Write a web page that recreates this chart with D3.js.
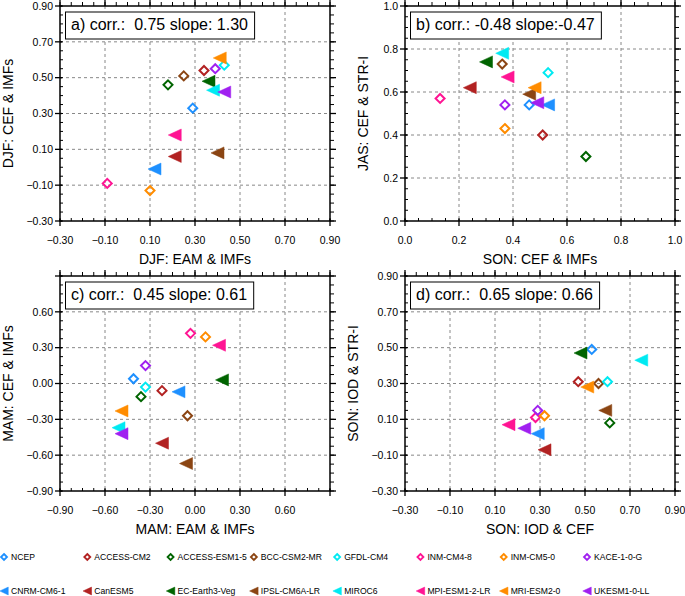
<!DOCTYPE html>
<html><head><meta charset="utf-8">
<script src="https://cdn.jsdelivr.net/npm/d3@7"></script>
<style>
html,body{margin:0;padding:0;background:#fff;}
svg{display:block;font-family:"Liberation Sans",Arial,Helvetica,sans-serif;}
</style></head>
<body>
<svg id="chart" width="685" height="596"></svg>
<script>
// ---------- data ----------
const models = ["NCEP","ACCESS-CM2","ACCESS-ESM1-5","BCC-CSM2-MR","GFDL-CM4","INM-CM4-8","INM-CM5-0","KACE-1-0-G",
  "CNRM-CM6-1","CanESM5","EC-Earth3-Veg","IPSL-CM6A-LR","MIROC6","MPI-ESM1-2-LR","MRI-ESM2-0","UKESM1-0-LL"];
const shapes = ["diamond","diamond","diamond","diamond","diamond","diamond","diamond","diamond",
  "triangle","triangle","triangle","triangle","triangle","triangle","triangle","triangle"];
const colors = ["#1e90ff","#b22222","#006400","#8b4513","#00eaf2","#ff1493","#ff8c00","#a020f0",
  "#1e90ff","#b22222","#006400","#8b4513","#00eaf2","#ff1493","#ff8c00","#a020f0"];

const aX = [0.29,0.34,0.18,0.25,0.43,-0.09,0.10,0.39, 0.12,0.21,0.36,0.40,0.38,0.21,0.41,0.43];
const aY = [0.33,0.54,0.46,0.51,0.57,-0.09,-0.13,0.55, -0.01,0.06,0.48,0.08,0.43,0.18,0.61,0.42];
const bX = [0.46,0.51,0.67,0.36,0.53,0.13,0.37,0.37, 0.53,0.24,0.30,0.46,0.36,0.38,0.48,0.49];
const bY = [0.54,0.40,0.30,0.73,0.69,0.57,0.43,0.54, 0.54,0.62,0.74,0.59,0.78,0.67,0.62,0.55];
const cX = [-0.41,-0.22,-0.36,-0.05,-0.33,-0.03,0.07,-0.33, -0.11,-0.22,0.18,-0.06,-0.51,0.16,-0.49,-0.49];
const cY = [0.04,-0.06,-0.11,-0.27,-0.03,0.42,0.39,0.15, -0.07,-0.50,0.03,-0.67,-0.37,0.32,-0.23,-0.42];
const dX = [0.53,0.47,0.61,0.56,0.60,0.28,0.32,0.29, 0.29,0.32,0.48,0.59,0.75,0.16,0.51,0.23];
const dY = [0.49,0.31,0.08,0.30,0.31,0.11,0.12,0.15, 0.02,-0.07,0.47,0.15,0.43,0.07,0.28,0.05];

const ticksA = [-0.3,-0.1,0.1,0.3,0.5,0.7,0.9];
const ticksB = [0.0,0.2,0.4,0.6,0.8,1.0];
const ticksC = [-0.9,-0.6,-0.3,0.0,0.3,0.6];

const titles = ["a) corr.:  0.75 slope: 1.30","b) corr.: -0.48 slope:-0.47","c) corr.:  0.45 slope: 0.61","d) corr.:  0.65 slope: 0.66"];
const xTitles = ["DJF: EAM & IMFs","SON: CEF & IMFs","MAM: EAM & IMFs","SON: IOD & CEF"];
const yTitles = ["DJF: CEF & IMFs","JAS: CEF & STR-I","MAM: CEF & IMFs","SON: IOD & STR-I"];

// ---------- drawing ----------
const svg = d3.select("#chart");

function markerPath(shape, s){
  if(shape==="diamond"){
    const h = s/2;
    return `M0,${-h}L${h},0L0,${h}L${-h},0Z`;
  } else {
    const w = s, hh = s*0.92;
    return `M${-w/2},0L${w/2},${-hh/2}L${w/2},${hh/2}Z`;
  }
}

function panel(cfg){
  const {x0,x1,y0,y1,xd,yd,xt,yt,step,minor,fmt,xs,ys,title,xTitle,yTitle,yTitleX} = cfg;
  const x = d3.scaleLinear().domain(xd).range([x0,x1]);
  const y = d3.scaleLinear().domain(yd).range([y1,y0]);
  const g = svg.append("g");
  const eps = 1e-9;
  // grid
  g.selectAll(".gx").data(xt.filter(v=>v>xd[0]+eps && v<xd[1]-eps)).join("line")
    .attr("x1",d=>x(d)).attr("x2",d=>x(d)).attr("y1",y0).attr("y2",y1)
    .attr("stroke","#888").attr("stroke-width",1).attr("stroke-dasharray","3,3");
  g.selectAll(".gy").data(yt.filter(v=>v>yd[0]+eps && v<yd[1]-eps)).join("line")
    .attr("y1",d=>y(d)).attr("y2",d=>y(d)).attr("x1",x0).attr("x2",x1)
    .attr("stroke","#888").attr("stroke-width",1).attr("stroke-dasharray","3,3");
  // minor ticks
  const minX = d3.range(Math.round((xd[1]-xd[0])/minor)+1).map(i=>xd[0]+i*minor);
  const minY = d3.range(Math.round((yd[1]-yd[0])/minor)+1).map(i=>yd[0]+i*minor);
  const majTest = v => xt.concat(yt).some(t=>Math.abs(t-v)<1e-6);
  minX.forEach(v=>{
    const px = x(v);
    // bottom minor inward
    g.append("line").attr("x1",px).attr("x2",px).attr("y1",y1).attr("y2",y1-3).attr("stroke","#000").attr("stroke-width",1);
    // top outward
    g.append("line").attr("x1",px).attr("x2",px).attr("y1",y0).attr("y2",y0-4).attr("stroke","#000").attr("stroke-width",1);
  });
  minY.forEach(v=>{
    const py = y(v);
    g.append("line").attr("x1",x0).attr("x2",x0+3).attr("y1",py).attr("y2",py).attr("stroke","#000").attr("stroke-width",1);
    g.append("line").attr("x1",x1).attr("x2",x1+4).attr("y1",py).attr("y2",py).attr("stroke","#000").attr("stroke-width",1);
  });
  // major ticks
  const majXAll = d3.range(Math.round((xd[1]-xd[0])/step)+1).map(i=>xd[0]+i*step);
  const majYAll = d3.range(Math.round((yd[1]-yd[0])/step)+1).map(i=>yd[0]+i*step);
  majXAll.forEach(v=>{
    const px = x(v);
    g.append("line").attr("x1",px).attr("x2",px).attr("y1",y1-2).attr("y2",y1+5).attr("stroke","#000").attr("stroke-width",1.3);
    g.append("line").attr("x1",px).attr("x2",px).attr("y1",y0).attr("y2",y0-6).attr("stroke","#000").attr("stroke-width",1.3);
  });
  majYAll.forEach(v=>{
    const py = y(v);
    g.append("line").attr("x1",x0-5).attr("x2",x0+2).attr("y1",py).attr("y2",py).attr("stroke","#000").attr("stroke-width",1.3);
    g.append("line").attr("x1",x1).attr("x2",x1+6).attr("y1",py).attr("y2",py).attr("stroke","#000").attr("stroke-width",1.3);
  });
  // frame
  g.append("rect").attr("x",x0).attr("y",y0).attr("width",x1-x0).attr("height",y1-y0)
    .attr("fill","none").attr("stroke","#000").attr("stroke-width",1.5);
  // tick labels
  g.selectAll(".lx").data(xt).join("text").attr("x",d=>x(d)).attr("y",y1+23)
    .attr("text-anchor","middle").attr("font-size",10.5).text(d=>d3.format(fmt)(d));
  g.selectAll(".ly").data(yt).join("text").attr("x",x0-7).attr("y",d=>y(d)).attr("dy","0.36em")
    .attr("text-anchor","end").attr("font-size",10.5).text(d=>d3.format(fmt)(d));
  // axis titles
  g.append("text").attr("x",(x0+x1)/2).attr("y",y1+43).attr("text-anchor","middle").attr("font-size",14).text(xTitle);
  g.append("text").attr("transform",`translate(${yTitleX},${(y0+y1)/2}) rotate(-90)`)
    .attr("text-anchor","middle").attr("font-size",14).text(yTitle);
  // title box
  const tb = g.append("g");
  const tt = tb.append("text").attr("x",x0+11).attr("y",y0+24).attr("font-size",16)
    .attr("xml:space","preserve").style("white-space","pre").text(title);
  const bb = tt.node().getBBox();
  tb.insert("rect","text").attr("x",x0+5.5).attr("y",y0+6).attr("width",bb.width+12).attr("height",27)
    .attr("fill","#fff").attr("stroke","#000").attr("stroke-width",1);
  // markers
  const pts = models.map((m,i)=>({x:xs[i],y:ys[i],shape:shapes[i],color:colors[i]}));
  g.selectAll(".pt").data(pts).join("path")
    .attr("transform",d=>`translate(${x(d.x)},${y(d.y)})`)
    .attr("d",d=>markerPath(d.shape, d.shape==="diamond"?9:13))
    .attr("fill",d=>d.shape==="diamond"?"none":d.color)
    .attr("stroke",d=>d.color)
    .attr("stroke-width",d=>d.shape==="diamond"?2:0.5)
    .attr("stroke-linejoin","miter");
}

panel({x0:60,x1:330,y0:6,y1:221,xd:[-0.3,0.9],yd:[-0.3,0.9],xt:ticksA,yt:ticksA,step:0.2,minor:0.05,fmt:".2f",
  xs:aX,ys:aY,title:titles[0],xTitle:xTitles[0],yTitle:yTitles[0],yTitleX:13});
panel({x0:405,x1:675,y0:6,y1:221,xd:[0,1],yd:[0,1],xt:ticksB,yt:ticksB,step:0.2,minor:0.05,fmt:".1f",
  xs:bX,ys:bY,title:titles[1],xTitle:xTitles[1],yTitle:yTitles[1],yTitleX:368});
panel({x0:60,x1:330,y0:276,y1:491,xd:[-0.9,0.9],yd:[-0.9,0.9],xt:ticksC,yt:ticksC,step:0.3,minor:0.075,fmt:".2f",
  xs:cX,ys:cY,title:titles[2],xTitle:xTitles[2],yTitle:yTitles[2],yTitleX:13});
panel({x0:405,x1:675,y0:276,y1:491,xd:[-0.3,0.9],yd:[-0.3,0.9],xt:ticksA,yt:ticksA,step:0.2,minor:0.05,fmt:".2f",
  xs:dX,ys:dY,title:titles[3],xTitle:xTitles[3],yTitle:yTitles[3],yTitleX:358});

// legend
const lx = d3.scaleLinear().domain([0,7]).range([4,587]);
const leg = svg.append("g").selectAll("g").data(models).join("g")
  .attr("transform",(d,i)=>`translate(${lx(i%8)},${i<8?557:591})`);
leg.append("path").attr("d",(d,i)=>markerPath(shapes[i], shapes[i]==="diamond"?6:8.5))
  .attr("fill",(d,i)=>shapes[i]==="diamond"?"none":colors[i])
  .attr("stroke",(d,i)=>colors[i]).attr("stroke-width",(d,i)=>shapes[i]==="diamond"?1.8:0.5);
leg.append("text").attr("x",7).attr("y",3).attr("font-size",8.6).text(d=>d);
</script>
</body></html>
